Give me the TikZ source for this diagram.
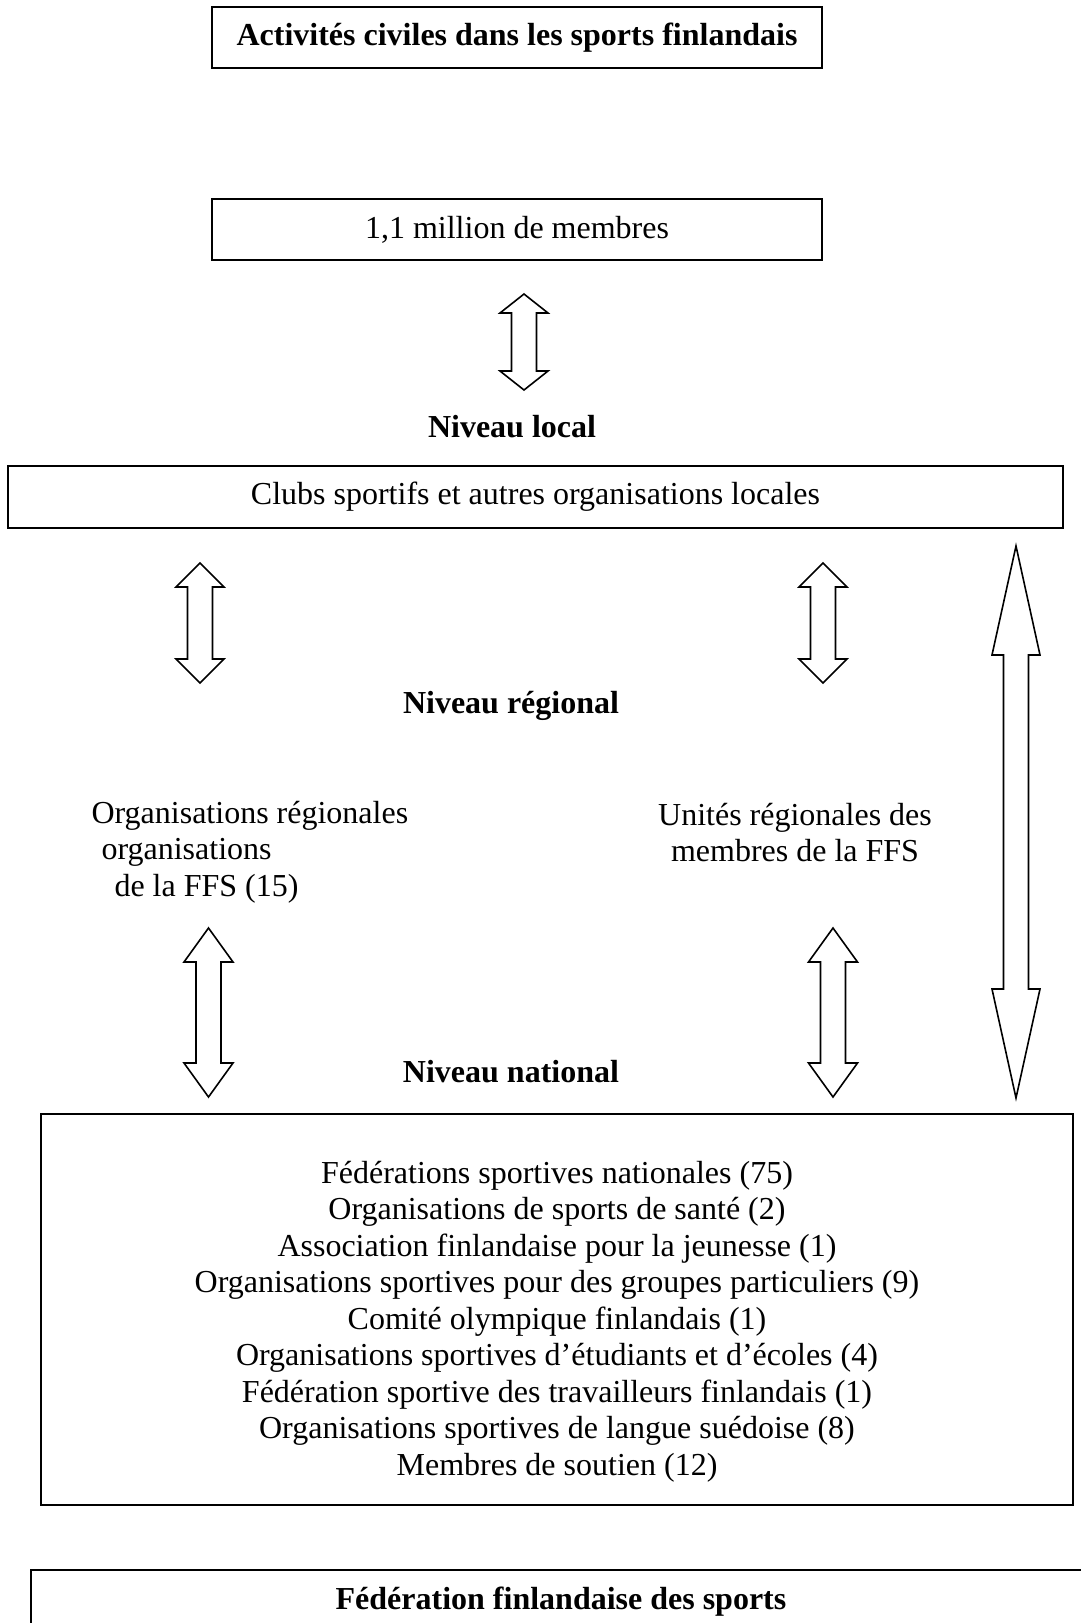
\documentclass[tikz,border=0pt]{standalone}
\usepackage{fontspec}
\setmainfont{Liberation Serif}
\usetikzlibrary{positioning}

% hollow two-headed arrow: x, top, bottom, head length, head half width
\newcommand{\dblarrow}[5]{%
  \draw[blockarrow] (#1,#2) -- ({#1+#5},{#2+#4}) -- ({#1+12.5},{#2+#4})
    -- ({#1+12.5},{#3-#4}) -- ({#1+#5},{#3-#4}) -- (#1,#3)
    -- ({#1-#5},{#3-#4}) -- ({#1-12.5},{#3-#4}) -- ({#1-12.5},{#2+#4})
    -- ({#1-#5},{#2+#4}) -- cycle;}

\begin{document}
\begin{tikzpicture}[x=1pt,y=-1pt,
    font=\fontsize{32}{36.5}\selectfont,
    box/.style={draw,line width=2pt,inner sep=0pt},
    level/.style={font=\fontsize{32}{36.5}\selectfont\bfseries},
    blockarrow/.style={draw,line width=1.6pt,line join=miter}]
   \useasboundingbox (0,0) rectangle (1081,1623);
   \clip (0,0) rectangle (1081,1623);

   \node[box,level,minimum width=610pt,minimum height=61pt] (title) at (517,37.5)
        {Activités civiles dans les sports finlandais};
   \node[box,minimum width=610pt,minimum height=61pt] (members) at (517,229.5)
        {1,1 million de membres};

   \node[level] (local) at (512,427) {Niveau local};
   \node[box,minimum width=1055pt,minimum height=62pt] (clubs) at (535.5,497)
        {Clubs sportifs et autres organisations locales};

   \node[level] (regional) at (511,706) {Niveau régional};
   \node[align=left,anchor=west] (regorg) at (88,852)
        {Organisations régionales\\\hspace*{10pt}organisations\\\hspace*{23pt}de la FFS (15)};
   \node[align=center] (regunits) at (795,832.5)
        {Unités régionales des\\membres de la FFS};

   \node[level] (national) at (511,1072) {Niveau national};
   \node[box,minimum width=1032pt,minimum height=391pt] (natbox) at (557,1309.5) {};
   \node[align=center,yshift=-12pt] (natlist) at (natbox.center)
        {Fédérations sportives nationales (75)\\
         Organisations de sports de santé (2)\\
         Association finlandaise pour la jeunesse (1)\\
         Organisations sportives pour des groupes particuliers (9)\\
         Comité olympique finlandais (1)\\
         Organisations sportives d’étudiants et d’écoles (4)\\
         Fédération sportive des travailleurs finlandais (1)\\
         Organisations sportives de langue suédoise (8)\\
         Membres de soutien (12)};

   \node[box,level,anchor=north,minimum width=1060pt,inner ysep=16pt,
         text height=23pt,text depth=60pt] (ffs) at (561,1569)
        {Fédération finlandaise des sports};

   % arrows between the levels
   \dblarrow{524}{294}{390}{19}{24}
   \dblarrow{200}{563}{683}{24}{24}
   \dblarrow{823}{563}{683}{24}{24}
   \dblarrow{1016}{546}{1098}{109}{24}
   \dblarrow{208.5}{928}{1097}{34}{24.5}
   \dblarrow{833}{928}{1097}{34}{24.5}
\end{tikzpicture}
\end{document}
